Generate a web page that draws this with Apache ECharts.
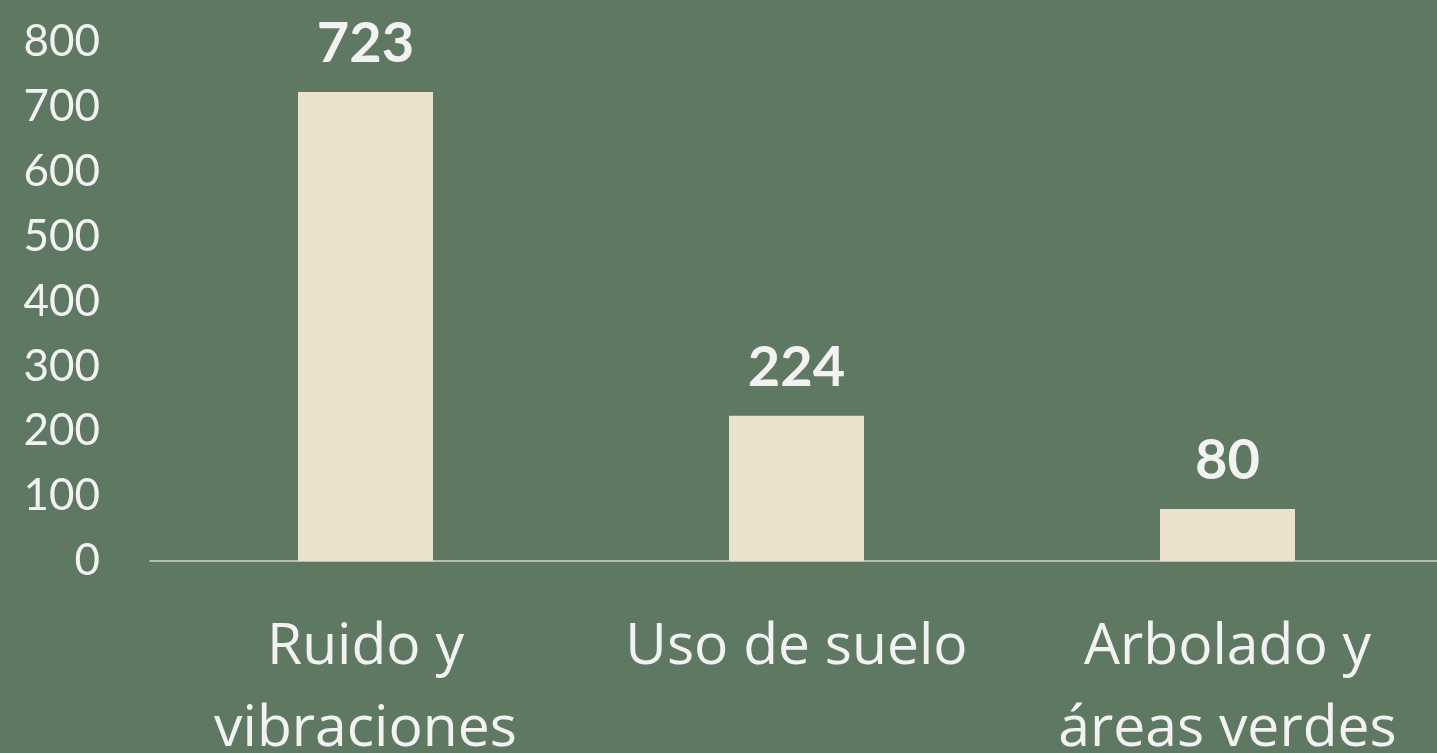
<!DOCTYPE html>
<html>
<head>
<meta charset="utf-8">
<script src="https://cdn.jsdelivr.net/npm/echarts@6/dist/echarts.min.js"></script>
<style>
  html, body { margin: 0; padding: 0; background: #5E7862; }
  #chart { width: 1437px; height: 753px; }
</style>
</head>
<body>
<div id="chart"></div>
<script>
// categorías y valores
var categories = ['Ruido y\nvibraciones', 'Uso de suelo', 'Arbolado y\náreas verdes'];
var values = [723, 224, 80];
var yTicks = [0, 100, 200, 300, 400, 500, 600, 700, 800];

var chart = echarts.init(document.getElementById('chart'));
chart.setOption({
  backgroundColor: '#5E7862',
  animation: false,
  grid: { left: 150, right: -6, top: 42, bottom: 192, containLabel: false, outerBoundsMode: 'none' },
  xAxis: {
    type: 'category',
    data: categories,
    axisLine: { show: true, lineStyle: { color: '#D4D6D0', width: 1.5 } },
    axisTick: { show: false },
    axisLabel: {
      color: '#F2F2F2',
      fontFamily: 'Open Sans',
      fontSize: 57,
      lineHeight: 82,
      margin: 46,
      interval: 0
    }
  },
  yAxis: {
    type: 'value',
    min: yTicks[0],
    max: yTicks[yTicks.length - 1],
    interval: 100,
    splitLine: { show: false },
    axisLine: { show: false },
    axisTick: { show: false },
    axisLabel: {
      color: '#F2F2F2',
      fontFamily: 'Lato',
      fontSize: 44,
      margin: 50
    }
  },
  series: [{
    type: 'bar',
    data: values,
    barWidth: 135,
    itemStyle: { color: '#ECE1CC' },
    label: {
      show: true,
      position: 'top',
      distance: 20,
      color: '#F2F2F2',
      fontFamily: 'Lato',
      fontWeight: 'bold',
      fontSize: 56
    }
  }]
});
</script>
</body>
</html>
